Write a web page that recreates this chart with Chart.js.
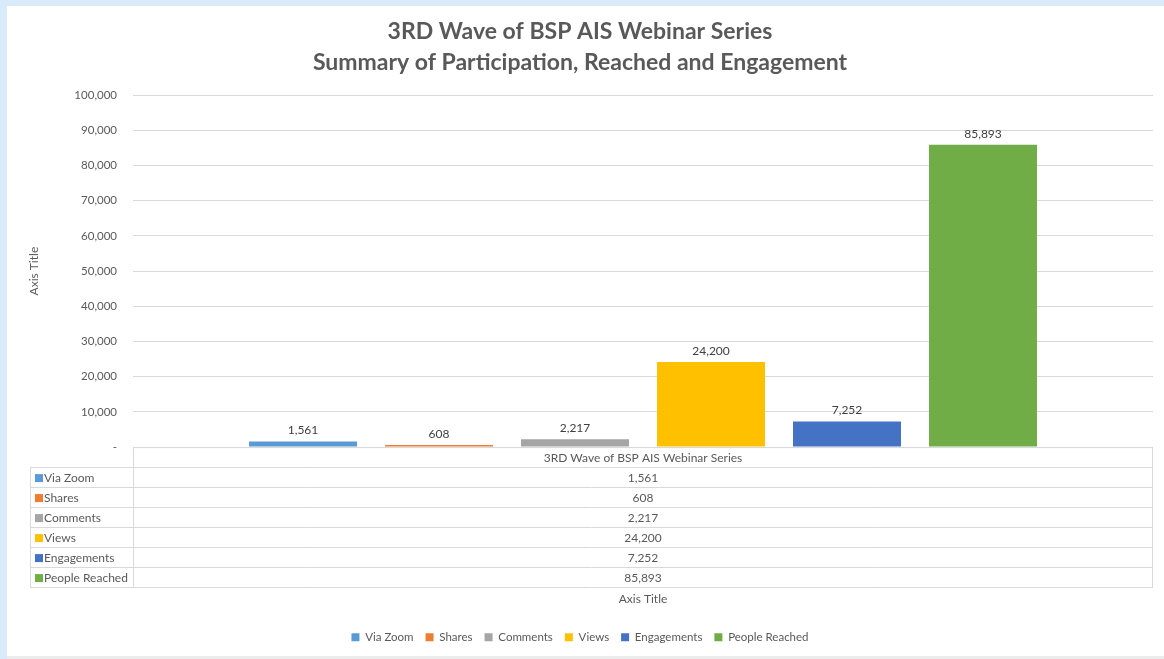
<!DOCTYPE html>
<html>
<head>
<meta charset="utf-8">
<script src="https://cdn.jsdelivr.net/npm/chart.js@4.4.1/dist/chart.umd.min.js"></script>
<style>
  html, body { margin: 0; padding: 0; background: #d9ebfa; width: 1164px; height: 659px; overflow: hidden; }
  #box { position: absolute; left: 7px; top: 6px; width: 1157px; height: 650px; background: #fff; }
  #strip { position: absolute; left: 7px; top: 656px; width: 1157px; height: 3px; background: #ececec; }
</style>
</head>
<body>
<div id="box"><canvas id="summaryChart" width="1157" height="650"></canvas></div>
<div id="strip"></div>
<script>
var category = '3RD Wave of BSP AIS Webinar Series';
var seriesNames = ['Via Zoom', 'Shares', 'Comments', 'Views', 'Engagements', 'People Reached'];
var seriesValues = [1561, 608, 2217, 24200, 7252, 85893];
var seriesColors = ['#5B9BD5', '#ED7D31', '#A5A5A5', '#FFC000', '#4472C4', '#70AD47'];
var yTicks = [0, 10000, 20000, 30000, 40000, 50000, 60000, 70000, 80000, 90000, 100000];

var FONT = 'Lato, Carlito, Calibri, sans-serif';
var TEXT = '#595959';
var LINE = '#d9d9d9';

function fmt(v) {
	return v === 0 ? '-' : v.toLocaleString('en-US');
}

var datasets = [];
for (var i = 0; i < seriesNames.length; i++) {
	datasets.push({
		label: seriesNames[i],
		data: [seriesValues[i]],
		backgroundColor: seriesColors[i],
		borderWidth: 0,
		categoryPercentage: 0.8,
		barPercentage: 0.794
	});
}

// value labels over bars
var barLabels = {
	id: 'barLabels',
	afterDatasetsDraw: function(chart) {
		var ctx = chart.ctx;
		ctx.save();
		ctx.font = '12px ' + FONT;
		ctx.fillStyle = '#404040';
		ctx.textAlign = 'center';
		ctx.textBaseline = 'bottom';
		chart.data.datasets.forEach(function(ds, i) {
			var bar = chart.getDatasetMeta(i).data[0];
			ctx.fillText(fmt(ds.data[0]), bar.x, bar.y - 5);
		});
		ctx.restore();
	}
};

// data table under the plot
var dataTable = {
	id: 'dataTable',
	afterDraw: function(chart) {
		var ctx = chart.ctx;
		var a = chart.chartArea;
		var rowH = 20;
		var left = 23;
		var top = a.bottom;
		var n = seriesNames.length;
		var bottom = top + rowH * (n + 1);
		ctx.save();
		ctx.strokeStyle = LINE;
		ctx.lineWidth = 1;
		ctx.beginPath();
		// header row
		ctx.moveTo(a.left, top + 0.5); ctx.lineTo(a.right, top + 0.5);
		for (var r = 1; r <= n + 1; r++) {
			var y = Math.round(top + r * rowH) + 0.5;
			ctx.moveTo(left, y); ctx.lineTo(a.right, y);
		}
		ctx.moveTo(left + 0.5, top + rowH); ctx.lineTo(left + 0.5, bottom + 0.5);
		ctx.moveTo(a.left + 0.5, top); ctx.lineTo(a.left + 0.5, bottom + 0.5);
		ctx.moveTo(a.right - 0.5, top); ctx.lineTo(a.right - 0.5, bottom + 0.5);
		ctx.stroke();

		var cx = (a.left + a.right) / 2;
		ctx.font = '12px ' + FONT;
		ctx.fillStyle = TEXT;
		ctx.textBaseline = 'middle';
		ctx.textAlign = 'center';
		ctx.fillText(category, cx, top + rowH / 2 + 1);
		for (var k = 0; k < n; k++) {
			var ym = top + rowH * (k + 1) + rowH / 2 + 1;
			ctx.textAlign = 'center';
			ctx.fillStyle = TEXT;
			ctx.fillText(fmt(seriesValues[k]), cx, ym);
			ctx.fillStyle = seriesColors[k];
			ctx.fillRect(left + 5, ym - 4, 8, 8);
			ctx.textAlign = 'left';
			ctx.fillStyle = TEXT;
			ctx.fillText(seriesNames[k], left + 14, ym);
		}
		ctx.restore();
	}
};

var ctx = document.getElementById('summaryChart');
var summaryChart = new Chart(ctx, {
	type: 'bar',
	data: {
		labels: [category],
		datasets: datasets
	},
	options: {
		responsive: false,
		animation: false,
		layout: { padding: { left: 0, right: 11, top: 0, bottom: 3 } },
		plugins: {
			title: {
				display: true,
				text: ['3RD Wave of BSP AIS Webinar Series', 'Summary of Participation, Reached and Engagement'],
				font: { family: FONT, size: 23, weight: 'bold', lineHeight: 1.35 },
				color: TEXT,
				padding: { top: 10, bottom: 17 }
			},
			legend: {
				position: 'bottom',
				labels: {
					boxWidth: 8,
					boxHeight: 8,
					padding: 12,
					color: TEXT,
					font: { family: FONT, size: 11.5 }
				}
			},
			tooltip: { enabled: false }
		},
		scales: {
			x: {
				grid: { display: false, drawTicks: false },
				border: { display: false },
				ticks: { display: false },
				title: {
					display: true,
					text: 'Axis Title',
					color: TEXT,
					font: { family: FONT, size: 12 },
					padding: { top: 145, bottom: 13 }
				}
			},
			y: {
				min: 0,
				max: 100000,
				afterBuildTicks: function(scale) {
					scale.ticks = yTicks.map(function(v) { return { value: v }; });
				},
				afterFit: function(scale) { scale.width = 126; },
				grid: { color: LINE, drawTicks: false },
				border: { display: false },
				ticks: {
					padding: 16,
					color: TEXT,
					font: { family: FONT, size: 11.5 },
					callback: function(v) { return fmt(v); }
				},
				title: {
					display: true,
					text: 'Axis Title',
					color: TEXT,
					font: { family: FONT, size: 12 },
					padding: { top: 20, bottom: 0 }
				}
			}
		}
	},
	plugins: [barLabels, dataTable]
});
</script>
</body>
</html>
